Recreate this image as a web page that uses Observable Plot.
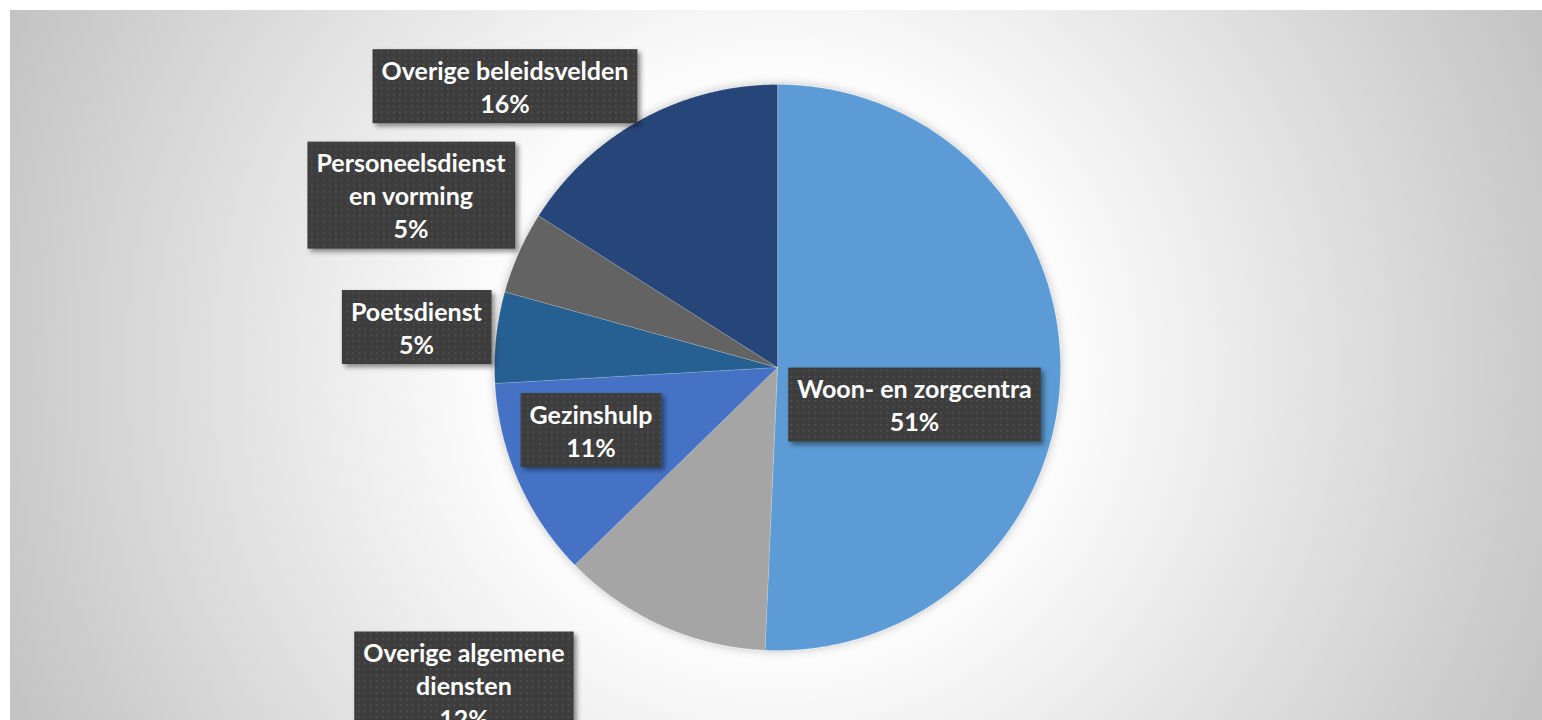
<!DOCTYPE html>
<html>
<head>
<meta charset="utf-8">
<script src="https://cdn.jsdelivr.net/npm/d3@7"></script>
<script src="https://cdn.jsdelivr.net/npm/@observablehq/plot@0.6"></script>
<style>
  html, body { margin: 0; padding: 0; background: #fff; overflow: hidden; }
  #bg { position: absolute; left: 10px; top: 10px; width: 1532px; height: 710px;
        background: radial-gradient(circle 870px at 766px 355px, #ffffff 30.7%, #c0c0c0 100%); }
  #chart { position: absolute; left: 0; top: 0; }
</style>
</head>
<body>
<div id="bg"></div>
<div id="chart"></div>
<script>
// ---- data ----
const categories = ["Woon- en zorgcentra", "Overige algemene diensten", "Gezinshulp", "Poetsdienst", "Personeelsdienst en vorming", "Overige beleidsvelden"];
const values = [50.7, 12.0, 11.4, 5.2, 4.7, 16.0];
const colors = ["#5B9BD5", "#A5A5A5", "#4472C4", "#255E91", "#636363", "#264478"];
const labelNames = ["Woon- en zorgcentra", "Overige algemene\ndiensten", "Gezinshulp", "Poetsdienst", "Personeelsdienst\nen vorming", "Overige beleidsvelden"];
// label box centres, in pie-radius units (x right, y up)
const labelX = [0.484, -1.108, -0.659, -1.276, -1.295, -0.963];
const labelY = [-0.129, -1.120, -0.219, 0.145, 0.611, 0.996];

// ---- geometry from values ----
const arcs = d3.pie().sort(null).value(d => d)(values);
const slicePts = [];
arcs.forEach((a, i) => {
  slicePts.push({cat: categories[i], x: 0, y: 0});
  const n = Math.max(2, Math.ceil((a.endAngle - a.startAngle) / 0.005));
  for (let k = 0; k <= n; k++) {
    const t = a.startAngle + (a.endAngle - a.startAngle) * k / n;
    slicePts.push({cat: categories[i], x: Math.sin(t), y: Math.cos(t)});
  }
});
const labels = categories.map((c, i) => ({
  cat: c, x: labelX[i], y: labelY[i],
  text: labelNames[i] + "\n" + Math.round(values[i]) + "%"
}));

const plot = Plot.plot({
  width: 1542, height: 720,
  marginLeft: 494, marginRight: 482, marginTop: 84, marginBottom: 70,
  x: {domain: [-1, 1], axis: null},
  y: {domain: [-1, 1], axis: null},
  color: {domain: categories, range: colors},
  style: {background: "transparent", fontFamily: "Lato, sans-serif", overflow: "visible"},
  marks: [
    Plot.line(slicePts, {x: "x", y: "y", z: "cat", fill: "cat", stroke: "#ffffff", strokeWidth: 0.6, strokeOpacity: 0.35, curve: "linear-closed", className: "pie"}),
    Plot.text(labels, {x: "x", y: "y", text: "text", fill: "white", fontWeight: "bold", fontSize: 25, lineHeight: 1.32, lineAnchor: "middle", className: "lbl"})
  ]
});
document.getElementById("chart").appendChild(plot);

// ---- decorations: pattern boxes behind labels, shadows ----
const svg = d3.select(plot);
const defs = svg.insert("defs", ":first-child");
const pat = defs.append("pattern").attr("id", "dots").attr("patternUnits", "userSpaceOnUse")
  .attr("width", 6).attr("height", 6);
pat.append("rect").attr("width", 6).attr("height", 6).attr("fill", "#3e3e3e");
pat.append("rect").attr("x", 2).attr("y", 2).attr("width", 1.5).attr("height", 1.5).attr("fill", "#555555");
const f1 = defs.append("filter").attr("id", "boxShadow").attr("x", "-20%").attr("y", "-20%").attr("width", "140%").attr("height", "140%");
f1.append("feDropShadow").attr("dx", 3).attr("dy", 3).attr("stdDeviation", 2.5).attr("flood-color", "#000").attr("flood-opacity", 0.45);
const f2 = defs.append("filter").attr("id", "pieShadow").attr("x", "-20%").attr("y", "-20%").attr("width", "140%").attr("height", "140%");
f2.append("feDropShadow").attr("dx", 0).attr("dy", 0).attr("stdDeviation", 5).attr("flood-color", "#000").attr("flood-opacity", 0.25);

svg.select("g.pie").attr("filter", "url(#pieShadow)");
const lblNode = svg.select("g.lbl").node();
Array.from(lblNode.querySelectorAll("text")).forEach(t => {
  const bb = t.getBBox();
  const nLines = t.querySelectorAll("tspan").length || 1;
  const h = nLines * 33 + 8;
  const cy = bb.y + bb.height / 2;
  const r = document.createElementNS("http://www.w3.org/2000/svg", "rect");
  r.setAttribute("x", bb.x - 9);
  r.setAttribute("y", cy - h / 2);
  r.setAttribute("width", bb.width + 18);
  r.setAttribute("height", h);
  r.setAttribute("fill", "url(#dots)");
  r.setAttribute("filter", "url(#boxShadow)");
  const tr = t.getAttribute("transform");
  if (tr) r.setAttribute("transform", tr);
  lblNode.insertBefore(r, t);
});
// keep all boxes behind all texts
Array.from(lblNode.querySelectorAll("rect")).reverse().forEach(r => lblNode.insertBefore(r, lblNode.firstChild));
</script>
</body>
</html>
